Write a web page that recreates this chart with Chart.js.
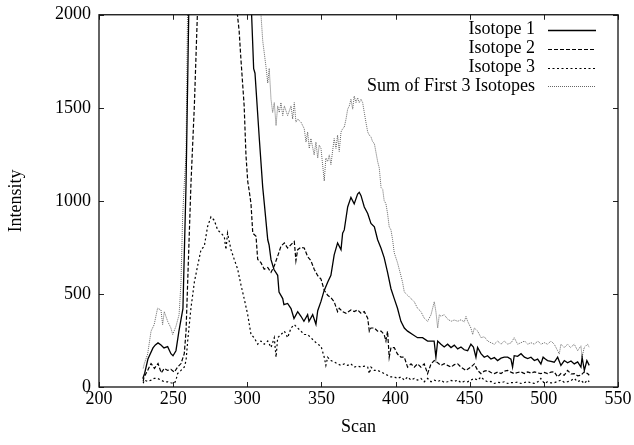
<!DOCTYPE html>
<html><head><meta charset="utf-8">
<script src="https://cdn.jsdelivr.net/npm/chart.js@4.4.1/dist/chart.umd.min.js"></script>
<style>html,body{margin:0;padding:0;background:#fff;}#wrap{width:634px;height:445px;}</style>
</head><body><div id="wrap"><canvas id="c" width="634" height="445"></canvas></div>
<script>
const seriesNames = ["Isotope 1", "Isotope 2", "Isotope 3", "Sum of First 3 Isotopes"];
const xTickValues = [200, 250, 300, 350, 400, 450, 500, 550];
const yTickValues = [0, 500, 1000, 1500, 2000];
const xTitle = "Scan";
const yTitle = "Intensity";

const iso1Scan = [229.5,230.8,233,236.4,238,239.8,241.8,243.8,246.3,248.5,249.9,251.9,253.9,256.6,258.7,262.5,280,298,301,304.3,305.2,308.1,310.4,311.5,313.8,314.7,316,318,320.5,321.4,323.9,324.7,327.2,329.5,331.5,334,336.2,338.2,340.7,341.6,344.1,346.3,347.5,349.7,351.7,354.2,356.4,358.6,360.9,363.2,364.3,365.4,367.7,369.9,372.1,374.4,375.5,376.7,378.9,381.2,383.4,385.7,387.9,390.2,392.3,394.6,396.9,399.1,401.3,403.6,405.9,408.1,411.5,414.8,418.2,421.6,426,427.2,428.4,430.6,432.8,435.1,437.4,439.6,441.9,444.1,446.3,448.6,450.8,452.5,454.2,455.3,457.6,459.8,462,464.3,466.6,468.8,471.1,473.3,475.6,477.8,478.9,480,482.3,484.6,486.9,489.1,491.3,493.6,495.8,498,499.5,501,502.5,504.8,507,509.3,511.5,513.8,516,518.3,520.5,522.8,525,525.8,527.3,529,530.6];
const iso1Val = [45,74,150,210,226,237,226,210,217,179,168,195,300,421,1089,3000,5000,3500,2400,1710,1686,1335,1074,984,791,763,684,631,600,510,475,442,449,421,368,405,380,353,389,353,389,337,410,460,515,563,600,710,774,738,826,844,967,1019,984,1037,1046,1028,967,932,879,861,791,745,695,616,528,475,423,353,317,300,282,265,265,247,247,160,247,230,215,230,212,225,205,215,200,195,230,215,160,212,179,160,168,150,158,142,155,160,160,150,107,168,165,179,160,153,160,142,150,124,160,150,142,138,133,160,116,142,130,140,124,135,107,160,89,142,116];

const iso2Scan = [229.8,230.3,232.8,235.1,237.4,239.8,242,244,246.3,248.5,250.8,253,255.3,257.5,258.7,259.8,260.9,262,264.3,268,275,288,292,294.5,295.6,297.9,299.1,300.3,301.3,302.5,303.7,305.9,307,309.2,311.4,313.8,316,317.1,318.2,320.5,322.7,325,327.2,329.5,331.7,332.8,334,336.2,338.4,340.7,342.9,345.1,347.5,349.7,351.9,354.2,356.4,358.6,360.9,362,364.3,366.6,369.9,372.1,374.4,376.7,378.9,381.2,382.3,383.4,385.7,387.9,390.2,392.3,393.5,394.6,395.7,396.9,399.1,401.3,403.6,405.9,408.1,410.4,412.6,414.8,417.1,419.3,421.6,423.9,426.1,428.4,430.6,432.8,435.1,437.4,439.6,441.9,444.1,447.5,450.8,453.1,455.4,457.6,459.8,462.1,464.3,466.6,468.8,471.1,473.3,475.6,477.8,480,482.3,484.6,486.9,489.1,491.3,493.6,495.8,498,500.3,502.5,504.8,507,509.3,511.5,513.7,516,518.3,520.5,522.8,525,527.2,529.5,530.6];
const iso2Val = [30,52,89,126,100,126,76,100,89,95,80,107,126,179,300,563,826,1089,1510,2400,3500,3000,2100,1914,1774,1510,1247,1105,1054,984,826,810,686,668,633,642,616,633,651,703,756,774,747,765,782,679,738,750,747,700,679,633,598,580,520,493,480,458,405,423,405,396,414,405,414,396,405,370,300,317,317,300,300,282,247,300,160,212,212,177,160,160,107,124,107,124,107,124,72,124,142,130,116,125,116,107,120,124,107,89,107,124,89,72,85,89,78,72,80,72,85,89,80,72,78,81,72,81,75,81,76,72,78,72,80,81,54,72,63,89,70,72,60,63,81,72,63];

const iso3Scan = [229.8,230.5,232.8,235.1,237.2,239.5,241.8,244,246.3,248.5,250.8,251.9,253,255.3,257.5,258.7,259.8,262,264.3,266.5,268.8,271,273.2,275.5,277.7,280,282.3,284.5,285.6,286.7,289,291.2,293.5,295.8,297.9,300.3,302.5,304.6,307,309.2,311.4,313.8,316,318.2,319.4,320.5,322.7,325,327.2,329.5,331.7,334,336.2,338.4,340.7,342.9,345.1,347.5,349.7,351.9,353,354.2,356.4,358.6,360.9,363.2,365.4,367.7,369.9,372.1,374.4,376.7,378.9,381.2,382.3,383.4,385.7,387.9,390.2,392.3,394.6,396.9,399.1,401.3,403.6,405.9,408.1,410.4,412.6,414.8,417.1,419.3,421.6,423.9,426.1,428.4,430.6,432.8,435.1,437.4,439.6,441.9,444.1,446.3,448.6,450.8,453.1,455.4,457.6,459.8,462.1,464.3,466.6,468.8,471.1,473.3,475.6,477.8,480,482.3,484.6,486.9,489.1,491.3,493.6,496,498,500.3,502.5,504.8,507,509.3,511.5,513.7,516,518.3,520.5,522.8,525,527.2,529.5,530.6];
const iso3Val = [20,37,30,37,46,46,37,28,28,23,19,37,72,89,107,142,247,423,563,651,738,756,861,914,896,844,826,808,738,826,738,686,633,546,475,388,282,265,230,247,230,247,212,265,160,265,282,300,265,317,335,317,300,282,282,265,247,230,220,160,116,160,142,135,124,116,124,116,124,107,112,107,112,107,72,107,89,89,81,72,63,54,54,46,54,37,54,37,46,37,46,28,46,28,37,30,37,25,28,35,30,37,23,30,28,37,46,37,54,37,28,30,19,25,23,28,19,24,23,26,19,24,28,22,19,28,46,19,28,22,23,30,37,25,28,35,46,28,37,19,37,28];

const sumScan = [229.8,230.5,232.8,235.1,237.2,239.5,241.8,242.9,244,246.3,248.5,249.7,251.9,254,255.3,256.4,257.5,258.7,261,280,305,308,310.4,312.6,313.8,314.8,316,317.1,318.2,319.4,320.5,321.6,322.7,323.9,325,327.2,329.5,330.6,331.7,332.8,334,336.2,338.4,339.6,340.7,341.8,342.9,345.1,346.3,347.5,348.5,349.7,351.9,353,354.2,355.3,356.4,358.6,359.8,360.9,362,363.2,364.3,365.4,366.6,367.7,368.8,369.9,371.1,372.1,373.3,374.4,375.5,376.7,377.8,378.9,380,381.2,382.3,383.4,384.6,385.7,387.9,389,390.2,391.3,392.3,393.5,394.6,395.7,396.9,398,399.1,401.3,403.6,404.7,405.9,408.1,410.4,412.6,414.8,417.1,419.3,421.6,423.9,426.1,427.2,428.4,429.5,430.6,432.8,435.1,437.4,439.6,441.9,444.1,446.3,447.5,448.6,450.8,452,453.1,455.4,457.6,459.8,462.1,464.3,466.6,468.8,471.1,473.3,475.6,478,480,482.3,484.6,487,489.1,491.3,493.6,496,498,500.3,502.5,504.8,507,509.3,510.4,511.5,513.7,516,518,520.5,522.8,525,525.8,527.2,529.5,530.6];
const sumVal = [100,124,177,300,335,423,414,335,405,353,317,282,326,388,563,914,1089,1247,3000,6000,3000,2150,1861,1721,1633,1712,1546,1475,1528,1405,1510,1475,1528,1458,1510,1458,1510,1440,1528,1423,1440,1423,1388,1316,1370,1282,1335,1247,1316,1230,1300,1282,1107,1230,1212,1247,1195,1335,1282,1353,1265,1370,1388,1396,1440,1493,1510,1546,1493,1563,1528,1554,1528,1546,1528,1475,1423,1370,1353,1344,1316,1308,1212,1177,1072,1063,1002,984,932,861,844,791,721,668,598,563,510,493,475,458,423,405,370,353,388,458,405,317,388,380,388,365,353,360,353,361,350,379,353,317,282,317,300,265,270,247,238,230,247,230,247,230,238,265,230,238,247,230,238,230,247,230,238,230,247,230,195,177,230,212,230,212,230,195,221,160,212,230,212];

function pts(xs, ys){ return xs.map((x,i)=>({x:x, y:ys[i]})); }

const FONT = '"Liberation Serif", "Times New Roman", serif';

const frame = {
  id:'frame',
  afterDraw(chart){
    const {ctx, chartArea:a, scales:{x, y}} = chart;
    ctx.save();
    ctx.setLineDash([]);
    ctx.strokeStyle = '#222';
    ctx.lineWidth = 1;
    const L = 5;
    ctx.beginPath();
    x.ticks.forEach(t=>{
      const px = Math.round(x.getPixelForValue(t.value)) + 0.5;
      ctx.moveTo(px, a.bottom); ctx.lineTo(px, a.bottom - L);
      ctx.moveTo(px, a.top); ctx.lineTo(px, a.top + L);
    });
    y.ticks.forEach(t=>{
      const py = Math.round(y.getPixelForValue(t.value)) + 0.5;
      ctx.moveTo(a.left, py); ctx.lineTo(a.left + L, py);
      ctx.moveTo(a.right, py); ctx.lineTo(a.right - L, py);
    });
    ctx.stroke();
    ctx.lineWidth = 1.3;
    ctx.strokeStyle = '#111';
    ctx.strokeRect(a.left, a.top, a.right - a.left, a.bottom - a.top);
    ctx.restore();
  }
};

const gpLegend = {
  id:'gpLegend',
  afterDraw(chart){
    const {ctx, chartArea:a} = chart;
    ctx.save();
    ctx.font = '18px ' + FONT;
    ctx.textAlign = 'right';
    ctx.textBaseline = 'middle';
    chart.data.datasets.forEach((ds, i)=>{
      const yy = a.top + 15 + i * 18.9;
      ctx.fillStyle = '#000';
      ctx.fillText(ds.label, a.right - 83, yy);
      ctx.beginPath();
      ctx.setLineDash(ds.borderDash || []);
      ctx.strokeStyle = ds.borderColor;
      ctx.lineWidth = ds.borderWidth;
      ctx.moveTo(a.right - 70, Math.round(yy) + 0.5);
      ctx.lineTo(a.right - 22, Math.round(yy) + 0.5);
      ctx.stroke();
    });
    ctx.restore();
  }
};

const styles = [
  {borderColor:'#000', borderWidth:1.3, borderDash:[]},
  {borderColor:'#000', borderWidth:1.2, borderDash:[4,2]},
  {borderColor:'#000', borderWidth:1.2, borderDash:[2,2.5]},
  {borderColor:'#666', borderWidth:1, borderDash:[1,1]}
];
const allData = [pts(iso1Scan, iso1Val), pts(iso2Scan, iso2Val), pts(iso3Scan, iso3Val), pts(sumScan, sumVal)];

new Chart(document.getElementById('c'), {
  type:'line',
  data:{
    datasets: allData.map((d,i)=>Object.assign({
      label: seriesNames[i], data: d, pointRadius:0, tension:0, fill:false
    }, styles[i]))
  },
  options:{
    responsive:false, animation:false, devicePixelRatio:1,
    layout:{padding:{top:7, right:16, left:0, bottom:0}},
    plugins:{legend:{display:false}, tooltip:{enabled:false}},
    scales:{
      x:{
        type:'linear', min:200, max:550,
        afterBuildTicks: s=>{ s.ticks = xTickValues.map(v=>({value:v})); },
        afterFit: s=>{ s.height = 58; },
        grid:{display:false, drawTicks:false}, border:{display:false},
        ticks:{color:'#000', padding:1, callback: v=>String(v), font:{family:FONT, size:18, lineHeight:1.2}},
        title:{display:true, text:xTitle, color:'#000', padding:{top:0, bottom:7}, font:{family:FONT, size:18, lineHeight:1.2}}
      },
      y:{
        type:'linear', min:0, max:2000,
        afterBuildTicks: s=>{ s.ticks = yTickValues.map(v=>({value:v})); },
        afterFit: s=>{ s.width = 99; },
        grid:{display:false, drawTicks:false}, border:{display:false},
        ticks:{color:'#000', padding:8, callback: v=>String(v), font:{family:FONT, size:18, lineHeight:0.75}},
        title:{display:true, text:yTitle, color:'#000', padding:{top:5, bottom:0}, font:{family:FONT, size:18, lineHeight:1.2}}
      }
    }
  },
  plugins:[frame, gpLegend]
});
</script>
</body></html>
